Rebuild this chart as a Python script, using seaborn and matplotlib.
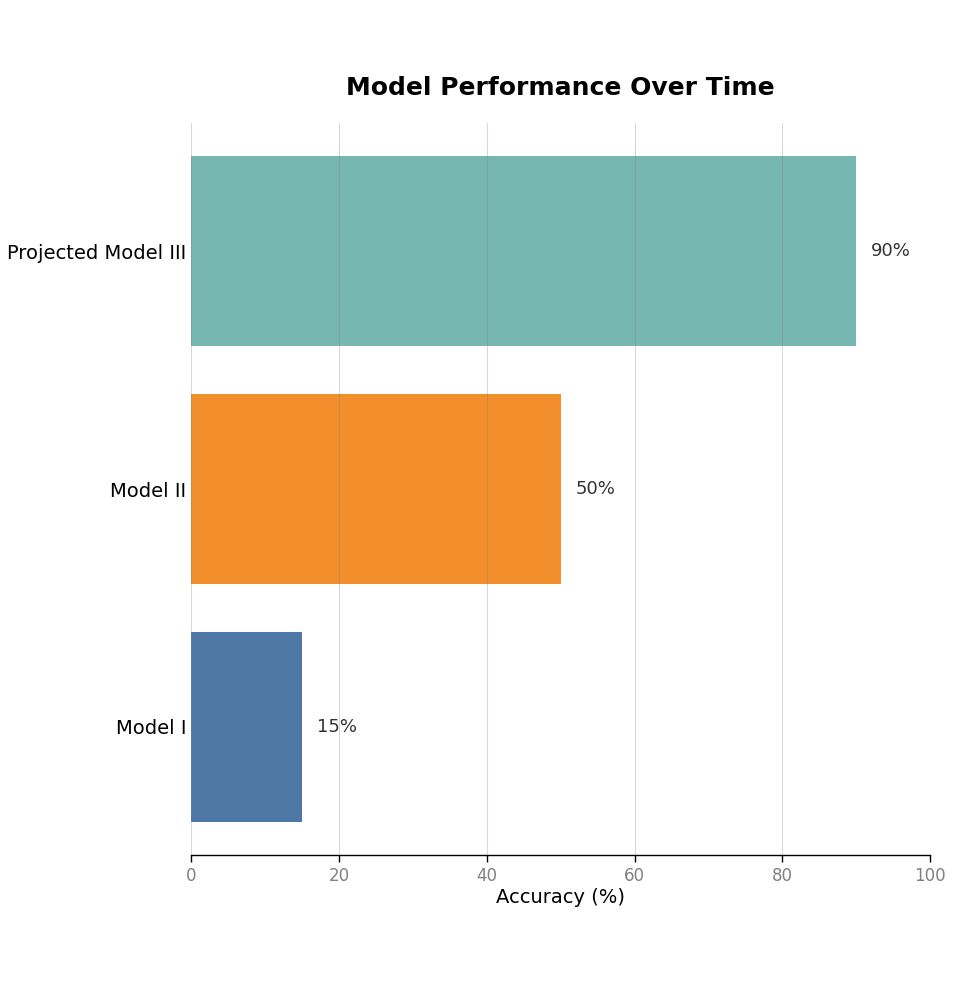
import matplotlib
matplotlib.use("Agg")
import matplotlib.pyplot as plt
import seaborn as sns
import pandas as pd

# Data
models = ["Model I", "Model II", "Projected Model III"]
accuracy = [15, 50, 90]
bar_colors = ["#4E79A7", "#F28E2B", "#76B7B2"]

sns.set_theme(style="whitegrid")
plt.rcParams['font.family'] = ['DejaVu Sans']

df = pd.DataFrame({"model": models, "accuracy": accuracy})

fig = plt.figure(figsize=(9.6, 9.91), dpi=100)
ax = fig.add_axes([0.199, 0.137, 0.770, 0.739])

# Draw bars bottom-up (Model I at bottom)
ax.barh(df["model"], df["accuracy"], color=bar_colors, height=0.8,
        linewidth=0, zorder=2)

ax.set_xlim(0, 100)
ax.set_xticks([0, 20, 40, 60, 80, 100])
ax.set_axisbelow(False)
ax.grid(axis="x", color="gray", alpha=0.3, linewidth=0.8, zorder=3)
ax.grid(axis="y", visible=False)

for side in ["top", "right", "left"]:
    ax.spines[side].set_visible(False)
ax.spines["bottom"].set_color("black")
ax.spines["bottom"].set_linewidth(1.0)
ax.spines["bottom"].set_zorder(4)

ax.tick_params(axis="x", colors="gray", labelsize=12, length=5, width=1, bottom=True)
ax.tick_params(axis="x", which="major", color="black")
ax.tick_params(axis="y", labelsize=14, labelcolor="black", length=0, pad=3.5)

ax.set_xlabel("Accuracy (%)", fontsize=14, color="black", labelpad=2)
ax.set_ylabel("")
ax.set_title("Model Performance Over Time", fontsize=18, fontweight="bold",
             color="black", pad=20)

for i, v in enumerate(df["accuracy"]):
    ax.text(v + 2, i, f"{v}%", va="center", ha="left", fontsize=13, color="#333333")

fig.savefig("out.png", dpi=100, facecolor="white")
